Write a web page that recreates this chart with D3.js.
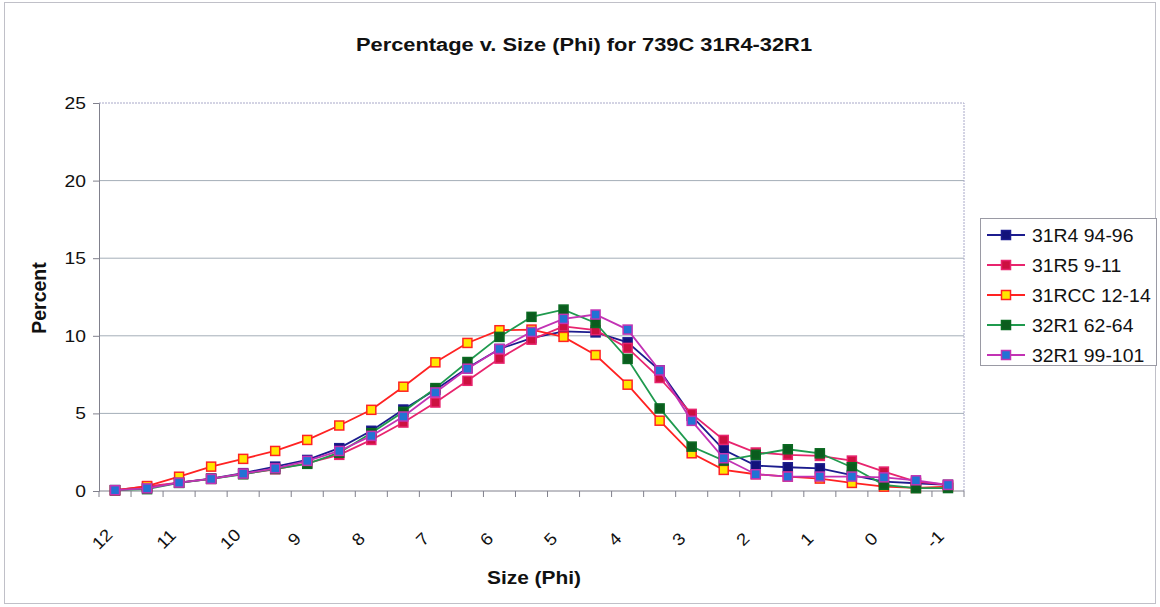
<!DOCTYPE html>
<html>
<head>
<meta charset="utf-8">
<script src="https://cdn.jsdelivr.net/npm/d3@7"></script>
<style>
  html, body { margin: 0; padding: 0; background: #fff; }
  svg { display: block; font-family: "Liberation Sans", Arial, sans-serif; }
</style>
</head>
<body>
<svg id="chart" width="1160" height="607"></svg>
<script>
// Grain-size categories in phi units, coarsening from left to right
const phi = [12, 11.5, 11, 10.5, 10, 9.5, 9, 8.5, 8, 7.5, 7, 6.5, 6, 5.5, 5,
             4.5, 4, 3.5, 3, 2.5, 2, 1.5, 1, 0.5, 0, -0.5, -1];
const tickLabels = ["12", "11", "10", "9", "8", "7", "6", "5", "4", "3", "2", "1", "0", "-1"];
const yTicks = [0, 5, 10, 15, 20, 25];

const seriesNames = ["31R4 94-96", "31R5 9-11", "31RCC 12-14", "32R1 62-64", "32R1 99-101"];

// Percent by weight in each phi class
const s31R4_94_96 = [0.06, 0.20, 0.54, 0.80, 1.15, 1.57, 2.00, 2.76, 3.88, 5.25, 6.52, 7.92, 9.15, 9.85,
                     10.29, 10.22, 9.58, 7.77, 4.84, 2.65, 1.64, 1.53, 1.46, 1.03, 0.60, 0.50, 0.40];
const s31R5_9_11 = [0.05, 0.30, 0.54, 0.78, 1.10, 1.40, 1.79, 2.33, 3.29, 4.41, 5.70, 7.10, 8.53, 9.75,
                    10.61, 10.36, 9.22, 7.28, 4.97, 3.29, 2.48, 2.33, 2.26, 1.96, 1.25, 0.60, 0.39];
const s31RCC_12_14 = [0.04, 0.32, 0.92, 1.57, 2.07, 2.58, 3.29, 4.22, 5.23, 6.72, 8.29, 9.54, 10.36, 10.40,
                      9.93, 8.76, 6.85, 4.53, 2.43, 1.36, 1.08, 0.93, 0.80, 0.52, 0.28, 0.20, 0.28];
const s32R1_62_64 = [0.05, 0.12, 0.52, 0.78, 1.08, 1.42, 1.75, 2.47, 3.73, 5.10, 6.63, 8.31, 9.93, 11.22,
                     11.69, 10.83, 8.51, 5.32, 2.86, 1.96, 2.33, 2.69, 2.43, 1.53, 0.40, 0.18, 0.19];
const s32R1_99_101 = [0.05, 0.17, 0.54, 0.78, 1.12, 1.46, 1.94, 2.58, 3.55, 4.80, 6.35, 7.88, 9.15, 10.25,
                      11.09, 11.37, 10.40, 7.77, 4.52, 2.11, 1.08, 0.93, 0.93, 0.93, 0.88, 0.69, 0.39];

const seriesValues = [s31R4_94_96, s31R5_9_11, s31RCC_12_14, s32R1_62_64, s32R1_99_101];
const lineColors   = ["#1c1c8e", "#e8246e", "#ff2222", "#1f9a4e", "#c232b4"];
const markerFill   = ["#12127a", "#cc1040", "#ffe600", "#0b5c1e", "#2272d4"];
const markerStroke = ["#1c1c8e", "#e8246e", "#ff2222", "#0b6a22", "#c232b4"];

const svg = d3.select("#chart");

// Outer chart frame
svg.append("rect")
  .attr("x", 4.5).attr("y", 2.5).attr("width", 1151).attr("height", 601)
  .attr("fill", "none").attr("stroke", "#c0c0c8").attr("stroke-width", 1);

const plot = { left: 99, right: 964, top: 103, bottom: 491 };

const x = d3.scaleBand()
  .domain(phi)
  .range([plot.left, plot.right])
  .paddingInner(0).paddingOuter(0);

const y = d3.scaleLinear()
  .domain([0, 25])
  .range([plot.bottom, plot.top]);

const cx = v => x(v) + x.bandwidth() / 2;

// Horizontal gridlines
svg.append("g")
  .selectAll("line")
  .data(yTicks.filter(t => t > 0 && t < 25))
  .join("line")
  .attr("x1", plot.left).attr("x2", plot.right)
  .attr("y1", d => y(d)).attr("y2", d => y(d))
  .attr("stroke", "#a4aeb8").attr("stroke-width", 1);

// Plot area border (top and right)
svg.append("path")
  .attr("d", `M${plot.left},${y(25)}H${plot.right}V${plot.bottom}`)
  .attr("fill", "none")
  .attr("stroke", "#a8a8c8").attr("stroke-width", 1)
  .attr("stroke-dasharray", "2,1");

// Y axis line and tick marks
const yAxis = svg.append("g")
  .attr("transform", `translate(${plot.left},0)`)
  .call(d3.axisLeft(y).tickValues(yTicks).tickSize(6).tickFormat(""));
yAxis.select(".domain").attr("stroke", "#80808c");
yAxis.selectAll(".tick line").attr("stroke", "#80808c");

// Y tick labels, slightly wide lettering
svg.append("g")
  .selectAll("text")
  .data(yTicks)
  .join("text")
  .attr("transform", d => `translate(${plot.left - 13},${y(d)}) scale(1.17,1)`)
  .attr("text-anchor", "end")
  .attr("dy", "0.36em")
  .attr("font-size", 16.5).attr("fill", "#111")
  .text(d => d);

// X axis: tick marks at category boundaries
const xAxisG = svg.append("g");
xAxisG.append("line")
  .attr("x1", plot.left).attr("x2", plot.right)
  .attr("y1", plot.bottom).attr("y2", plot.bottom)
  .attr("stroke", "#80808c");
const boundaries = phi.map(p => x(p)).concat([plot.right]);
xAxisG.selectAll("line.tk")
  .data(boundaries)
  .join("line").attr("class", "tk")
  .attr("x1", d => d).attr("x2", d => d)
  .attr("y1", plot.bottom).attr("y2", plot.bottom + 6)
  .attr("stroke", "#80808c");

// Rotated category labels on whole-phi classes
xAxisG.selectAll("text")
  .data(tickLabels)
  .join("text")
  .attr("transform", d => `translate(${cx(+d) - 13},${plot.bottom + 48}) rotate(-45) scale(1.1,1)`)
  .attr("text-anchor", "middle")
  .attr("dy", "0.35em")
  .attr("font-size", 17).attr("fill", "#111")
  .text(d => d);

// Series lines and square markers
const line = d3.line()
  .x((d, i) => cx(phi[i]))
  .y(d => y(d));

seriesValues.forEach((vals, k) => {
  const g = svg.append("g");
  g.append("path")
    .datum(vals)
    .attr("d", line)
    .attr("fill", "none")
    .attr("stroke", lineColors[k])
    .attr("stroke-width", 1.8);
  g.selectAll("rect")
    .data(vals)
    .join("rect")
    .attr("x", (d, i) => cx(phi[i]) - 4.5)
    .attr("y", d => y(d) - 4.5)
    .attr("width", 9).attr("height", 9)
    .attr("fill", markerFill[k])
    .attr("stroke", markerStroke[k])
    .attr("stroke-width", 1.5);
});

// Title and axis titles
svg.append("text")
  .attr("transform", "translate(584,51) scale(1.15,1)")
  .attr("text-anchor", "middle")
  .attr("font-size", 19).attr("font-weight", "bold").attr("fill", "#111")
  .text("Percentage v. Size (Phi) for 739C 31R4-32R1");

svg.append("text")
  .attr("transform", "translate(46,298) rotate(-90)")
  .attr("text-anchor", "middle")
  .attr("font-size", 19.5).attr("font-weight", "bold").attr("fill", "#111")
  .text("Percent");

svg.append("text")
  .attr("transform", "translate(534,584) scale(1.1,1)")
  .attr("text-anchor", "middle")
  .attr("font-size", 19).attr("font-weight", "bold").attr("fill", "#111")
  .text("Size (Phi)");

// Legend
const legend = svg.append("g");
legend.append("rect")
  .attr("x", 980.5).attr("y", 218.5).attr("width", 176).attr("height", 147)
  .attr("fill", "#fff").attr("stroke", "#9a9aa4");
seriesNames.forEach((name, k) => {
  const ly = 235 + k * 30;
  legend.append("line")
    .attr("x1", 987).attr("x2", 1025).attr("y1", ly).attr("y2", ly)
    .attr("stroke", lineColors[k]).attr("stroke-width", 2);
  legend.append("rect")
    .attr("x", 1001.5).attr("y", ly - 4.5).attr("width", 9).attr("height", 9)
    .attr("fill", markerFill[k]).attr("stroke", markerStroke[k]).attr("stroke-width", 1.5);
  legend.append("text")
    .attr("transform", `translate(1032,${ly}) scale(1.05,1)`)
    .attr("dy", "0.36em")
    .attr("font-size", 18.5).attr("fill", "#111")
    .text(name);
});
</script>
</body>
</html>
